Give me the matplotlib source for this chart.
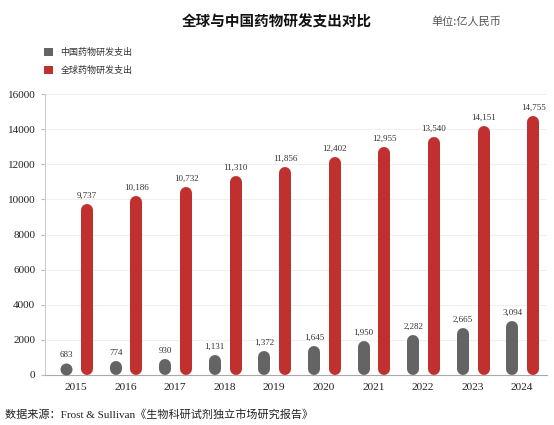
import matplotlib
matplotlib.use("Agg")
import matplotlib.pyplot as plt
from matplotlib.patches import Patch

years = ["2015", "2016", "2017", "2018", "2019", "2020", "2021", "2022", "2023", "2024"]
china = [683, 774, 930, 1131, 1372, 1645, 1950, 2282, 2665, 3094]
world = [9737, 10186, 10732, 11310, 11856, 12402, 12955, 13540, 14151, 14755]
yticks = [0, 2000, 4000, 6000, 8000, 10000, 12000, 14000, 16000]

GRAY = "#646464"
RED = "#C0302E"
SERIF = ["Liberation Serif", "DejaVu Serif"]
CJK = ["Noto Sans CJK SC", "DejaVu Sans"]
MIXED = ["Liberation Serif", "Noto Sans CJK SC", "DejaVu Sans"]

W, H = 554, 425
fig = plt.figure(figsize=(W / 100, H / 100), dpi=100)
fig.patch.set_facecolor("white")
left, right, bottom, top = 45 / W, 547 / W, 1 - 375 / H, 1 - 94 / H
ax = fig.add_axes([left, bottom, right - left, top - bottom])
ax.set_xlim(-0.625, len(years) - 0.5)
ax.set_ylim(0, 16000)

ax_h_px = (top - bottom) * H
bar_px = 12
lw_pt = bar_px * 72 / 100
r = (bar_px / 2) * 16000 / ax_h_px
off_g, off_r = -0.2, 0.22

for i, (c, w) in enumerate(zip(china, world)):
    for x, v, col in ((i + off_g, c, GRAY), (i + off_r, w, RED)):
        if v - r > r + 1:
            ax.plot([x, x], [r, v - r], color=col, lw=lw_pt, solid_capstyle="round", zorder=3)
        else:
            ax.plot([x], [v / 2], marker="o", ms=lw_pt, color=col, mec="none", zorder=3)
        ax.annotate(f"{v:,}", (x, v), xytext=(0, 3), textcoords="offset points",
                    ha="center", va="bottom", fontsize=6.5, family=SERIF, color="#333333")

ax.set_yticks(yticks)
ax.set_yticklabels([str(t) for t in yticks], family=SERIF, fontsize=8, color="#222222")
ax.set_xticks(range(len(years)))
ax.set_xticklabels(years, family=SERIF, fontsize=8.2, color="#222222")
ax.tick_params(axis="x", length=0, pad=6)
ax.tick_params(axis="y", length=3, color="#bbbbbb", pad=4)
for s in ("top", "right"):
    ax.spines[s].set_visible(False)
ax.spines["left"].set_color("#cccccc")
ax.spines["bottom"].set_color("#aaaaaa")
ax.spines["left"].set_linewidth(0.8)
ax.spines["bottom"].set_linewidth(0.8)
ax.grid(axis="y", color="#f0f0f0", lw=0.8, zorder=0)
ax.set_axisbelow(True)

fig.text(277 / W, 1 - 22 / H, "全球与中国药物研发支出对比", ha="center", va="center",
         fontsize=10.5, fontweight="bold", family=CJK, color="#111111")
fig.text(466 / W, 1 - 22 / H, "单位:亿人民币", ha="center", va="center",
         fontsize=8, family=CJK, color="#555555")

handles = [Patch(facecolor=GRAY, edgecolor="none", label="中国药物研发支出"),
           Patch(facecolor=RED, edgecolor="none", label="全球药物研发支出")]
fig.legend(handles=handles, loc="upper left", bbox_to_anchor=(36 / W, 1 - 40 / H),
           frameon=False, prop={"family": CJK, "size": 6.5}, handlelength=1.0,
           handleheight=1.0, handletextpad=0.8, labelspacing=1.0, labelcolor="#333333")

fig.text(5 / W, 1 - 414 / H, "数据来源：Frost & Sullivan《生物科研试剂独立市场研究报告》",
         ha="left", va="center", fontsize=8, family=MIXED, color="#222222")

fig.savefig("out.png", dpi=100, facecolor="white")
